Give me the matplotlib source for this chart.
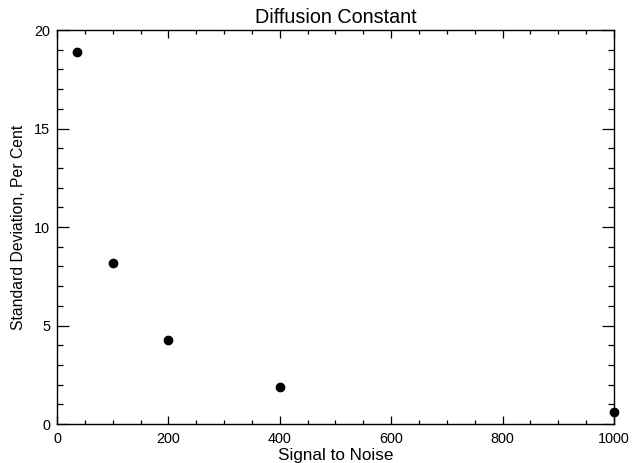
import matplotlib
matplotlib.use("Agg")
import matplotlib.pyplot as plt
from matplotlib.ticker import MultipleLocator

signal_to_noise = [36, 100, 200, 400, 1000]
std_dev_percent = [18.9, 8.15, 4.28, 1.86, 0.63]

plt.rcParams['font.family'] = ['Liberation Sans', 'DejaVu Sans']

fig = plt.figure(figsize=(6.32, 4.63), dpi=100)
ax = fig.add_axes([0.0902, 0.0842, 0.8813, 0.8510])

ax.scatter(signal_to_noise, std_dev_percent, s=36, color='black', zorder=3, clip_on=False)

ax.set_xlim(0, 1000)
ax.set_ylim(0, 20)
ax.xaxis.set_major_locator(MultipleLocator(200))
ax.xaxis.set_minor_locator(MultipleLocator(50))
ax.yaxis.set_major_locator(MultipleLocator(5))
ax.yaxis.set_minor_locator(MultipleLocator(1))

ax.tick_params(axis='both', which='both', direction='in', top=True, right=True,
               labelsize=10.4, width=0.9, colors='black')
ax.tick_params(axis='x', which='major', length=6, pad=6)
ax.tick_params(axis='x', which='minor', length=3)
ax.tick_params(axis='y', which='major', length=8.5, pad=5)
ax.tick_params(axis='y', which='minor', length=4.5)
for sp in ax.spines.values():
    sp.set_linewidth(1.0)

ax.set_title('Diffusion Constant', fontsize=14.2, pad=5)
ax.set_xlabel('Signal to Noise', fontsize=12.3, labelpad=1)
ax.set_ylabel('Standard Deviation, Per Cent', fontsize=11.3, labelpad=6)

fig.savefig('out.png', dpi=100)
